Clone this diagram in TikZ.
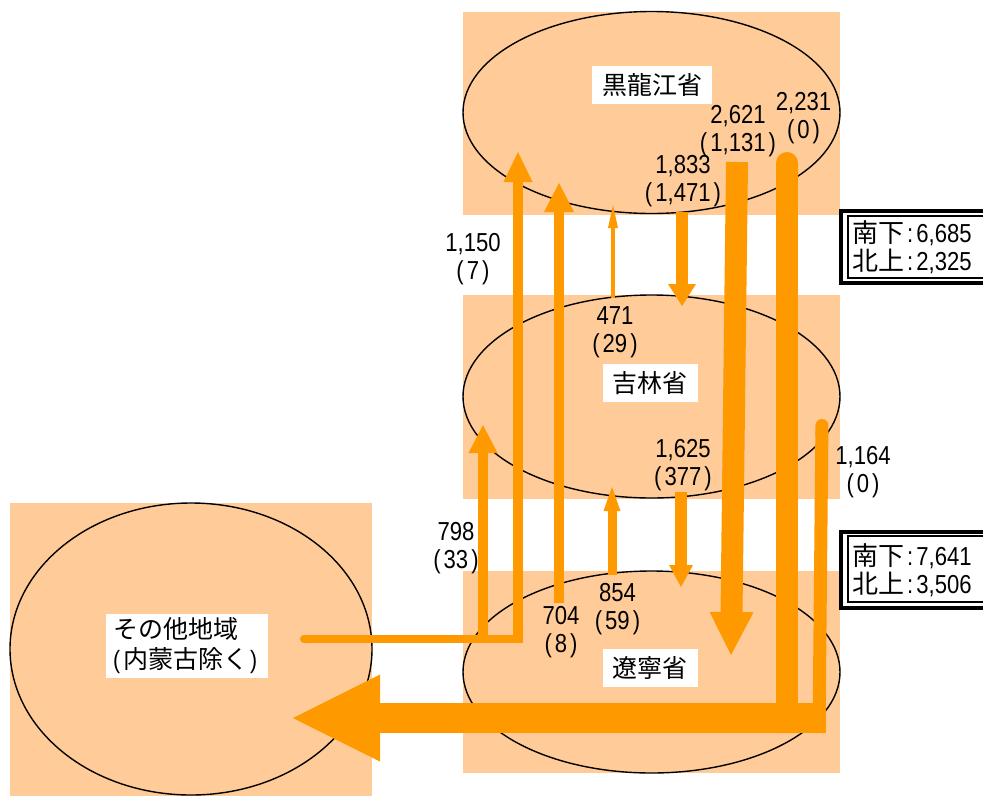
\documentclass[tikz,border=0pt]{standalone}
\usepackage{fontspec}
\setmainfont{Liberation Sans}[FakeStretch=0.85]
\newfontfamily\cjk{Noto Sans CJK JP}
\usetikzlibrary{arrows.meta,shapes.geometric}
\definecolor{peach}{HTML}{FFCC99}
\definecolor{flow}{HTML}{FF9900}
\newcommand\pp[1]{(\kern3pt#1\kern3pt)}
\begin{document}
\begin{tikzpicture}[x=1pt,y=-1pt,
  region/.style={fill=peach},
  oval/.style={draw=black, line width=1.4pt, ellipse, inner sep=0pt},
  pname/.style={fill=white, inner xsep=10pt, inner ysep=0pt, minimum height=38pt, font=\cjk\fontsize{25}{30}\selectfont},
  num/.style={font=\fontsize{26}{28}\selectfont, align=center, inner sep=0pt},
  sumtext/.style={font=\fontsize{26}{28}\selectfont, align=left, inner sep=0pt, anchor=west},
  flowline/.style={draw=flow, line width=#1},
  head/.style 2 args={-{Triangle[length=#1pt, width=#2pt, line width=0pt]}},
  capflow/.style={{Round Cap[line width=0pt]}-{Butt Cap[line width=0pt]}},
]
\useasboundingbox (0,0) rectangle (983,796);

% background regions
\fill[region] (463,12) rectangle (840,215);
\fill[region] (463,295) rectangle (840,499);
\fill[region] (463,571) rectangle (840,773);
\fill[region] (10,503) rectangle (372,796);

% ellipses
\node[oval, minimum width=377pt, minimum height=202pt] (hljE) at (651.5,112.5) {};
\node[oval, minimum width=377pt, minimum height=203pt] (jlE) at (651.5,396.5) {};
\node[oval, minimum width=377pt, minimum height=202pt] (lnE) at (651.5,672) {};
\node[oval, minimum width=362pt, minimum height=292pt] (otE) at (191,649) {};

% flow endpoints
\coordinate (hS) at (300,639);
\coordinate (hE) at (523,639);
\coordinate (a1s) at (518,639);  \coordinate (a1e) at (518,152);
\coordinate (a2s) at (483,639);  \coordinate (a2e) at (483,425);
\coordinate (a3s) at (559,603);  \coordinate (a3e) at (559,183);
\coordinate (a4s) at (613,298);  \coordinate (a4e) at (613,205);
\coordinate (a5s) at (682,212);  \coordinate (a5e) at (682,306);
\coordinate (a6s) at (737,162);  \coordinate (a6e) at (731,655);
\coordinate (a7s) at (787,152);  \coordinate (a7e) at (787,733);
\coordinate (a8s) at (822,419);  \coordinate (a8e) at (819,733);
\coordinate (a9s) at (826,718);  \coordinate (a9e) at (293,718);
\coordinate (a10s) at (612,575); \coordinate (a10e) at (612,487);
\coordinate (a11s) at (681,492); \coordinate (a11e) at (681,587);

% flows
\draw[flowline=8pt, {Round Cap[line width=0pt]}-] (hS) -- (hE);
\draw[flowline=10pt, head={30}{29}] (a1s) -- (a1e);
\draw[flowline=10pt, head={28}{29}] (a2s) -- (a2e);
\draw[flowline=10pt, head={29}{30}] (a3s) -- (a3e);
\draw[flowline=4pt, head={23}{10}] (a4s) -- (a4e);
\draw[flowline=12pt, head={22}{28}] (a5s) -- (a5e);
\draw[flowline=22pt, head={43}{44}] (a6s) -- (a6e);
\draw[flowline=22pt, capflow] (a7s) -- (a7e);
\draw[flowline=13pt, capflow] (a8s) -- (a8e);
\draw[flowline=30pt, head={87}{87}] (a9s) -- (a9e);
\draw[flowline=9pt, head={24}{17}] (a10s) -- (a10e);
\draw[flowline=12pt, head={22}{24}] (a11s) -- (a11e);

% region names
\node[pname] (hlj) at (652,85) {黒龍江省};
\node[pname] (jl) at (650,383) {吉林省};
\node[pname] (ln) at (650,668) {遼寧省};
\node[fill=white, inner xsep=7pt, inner ysep=4pt, text width=148pt, align=left,
      font=\cjk\fontsize{25}{30}\selectfont] (ot) at (187,646)
      {その他地域\\{\rmfamily(}\kern3pt 内蒙古除く\kern2pt{\rmfamily)}};

% flow labels
\node[num] (l1150) at (473,259.5) {1,150\\\pp{7}};
\node[num] (l471) at (615,332) {471\\\pp{29}};
\node[num] (l1833) at (683,181.5) {1,833\\\pp{1,471}};
\node[num] (l2621) at (738,131.5) {2,621\\\pp{1,131}};
\node[num] (l2231) at (803.5,118.5) {2,231\\\pp{0}};
\node[num] (l1625) at (683,465.5) {1,625\\\pp{377}};
\node[num] (l1164) at (863,472) {1,164\\\pp{0}};
\node[num] (l798) at (456,548.5) {798\\\pp{33}};
\node[num] (l854) at (617.5,609.5) {854\\\pp{59}};
\node[num] (l704) at (561,632.5) {704\\\pp{8}};

% summary boxes
\draw[line width=4pt] (841,210.5) rectangle (995,282.5);
\draw[line width=2pt] (848,216) rectangle (995,278);
\node[sumtext] (s1) at (852,247) {{\cjk 南下}\kern3pt:\kern3pt6,685\\{\cjk 北上}\kern3pt:\kern3pt2,325};
\draw[line width=4pt] (841,531.5) rectangle (995,608);
\draw[line width=2pt] (848,536) rectangle (995,602);
\node[sumtext] (s2) at (852,570) {{\cjk 南下}\kern3pt:\kern3pt7,641\\{\cjk 北上}\kern3pt:\kern3pt3,506};
\end{tikzpicture}
\end{document}
